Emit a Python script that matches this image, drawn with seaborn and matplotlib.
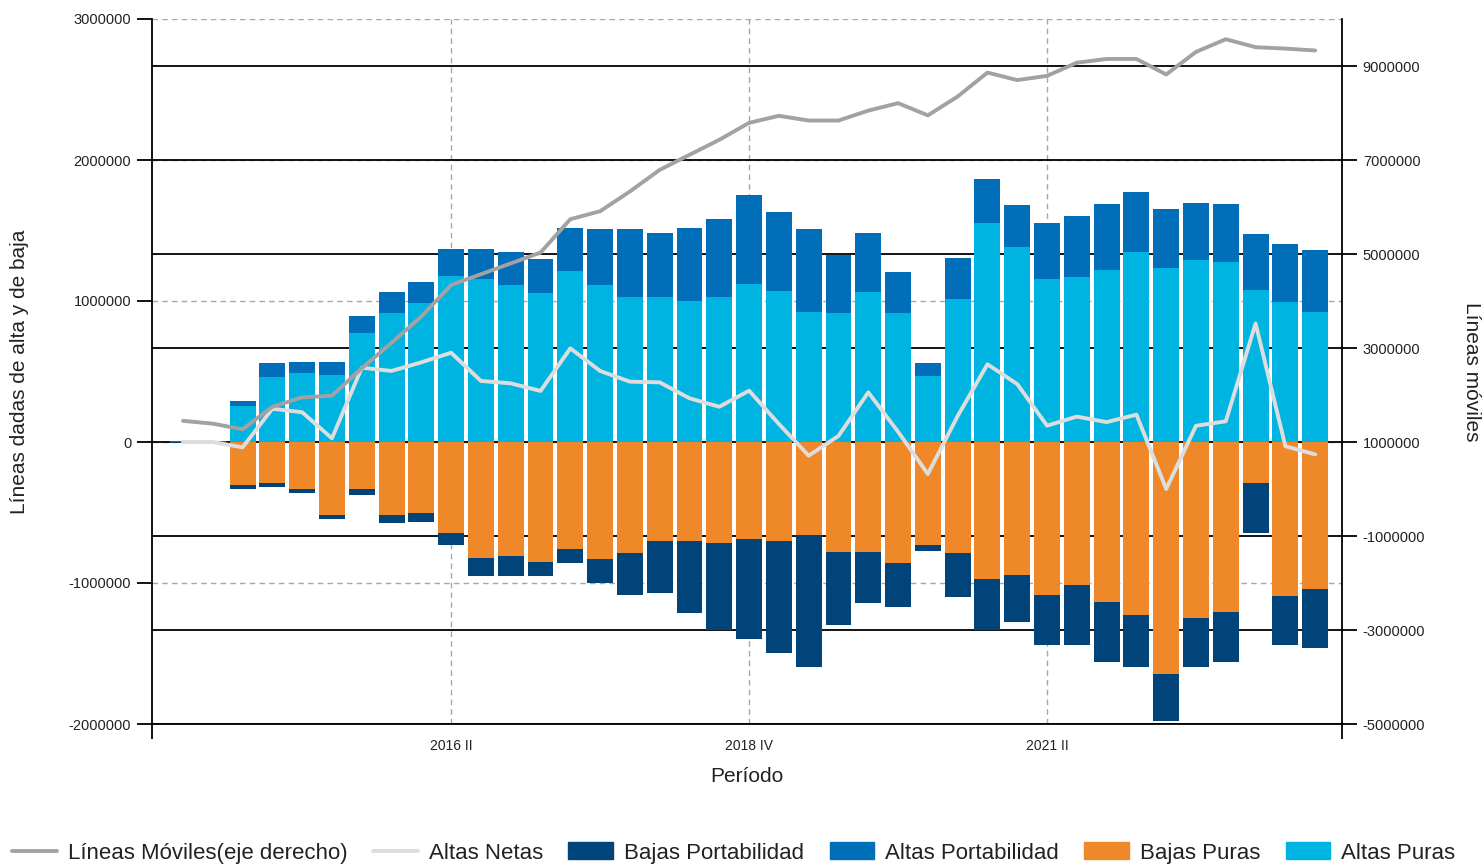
import numpy as np
import matplotlib
matplotlib.use("Agg")
import matplotlib.pyplot as plt
from matplotlib.ticker import FuncFormatter, FixedLocator
from matplotlib.lines import Line2D
from matplotlib.patches import Patch
import seaborn as sns

# quarters 2014 I .. 2023 III
quarters = [f"{y} {q}" for y in range(2014, 2024) for q in ["I", "II", "III", "IV"]][:39]

# values in thousands of lines
altas_puras = np.array([2, 2, 257, 459, 487, 475, 771, 913, 984, 1179,
                        1154, 1111, 1055, 1213, 1111, 1026, 1026, 998, 1026, 1123,
                        1071, 924, 913, 1066, 913, 470, 1012, 1551, 1381, 1156,
                        1168, 1222, 1349, 1235, 1294, 1280, 1077, 993, 924]) * 1000
altas_port = np.array([6, 6, 33, 99, 82, 95, 125, 153, 153, 187,
                       213, 238, 241, 307, 397, 482, 454, 522, 553, 627,
                       562, 584, 413, 414, 295, 88, 295, 312, 300, 395,
                       438, 469, 427, 414, 398, 411, 401, 414, 438]) * 1000
bajas_puras = np.array([2, 2, 305, 293, 335, 518, 335, 518, 506, 648,
                        820, 806, 849, 761, 832, 789, 704, 704, 718, 690,
                        704, 660, 778, 778, 860, 730, 789, 974, 945, 1087,
                        1016, 1132, 1230, 1646, 1248, 1204, 294, 1090, 1045]) * 1000
bajas_port = np.array([4, 4, 30, 28, 28, 31, 43, 59, 60, 83,
                       128, 142, 99, 99, 170, 298, 369, 511, 615, 709,
                       794, 938, 520, 366, 312, 43, 312, 360, 329, 355,
                       426, 428, 369, 330, 350, 356, 351, 350, 413]) * 1000
altas_netas = np.array([0, 0, -38, 236, 211, 26, 527, 504, 565, 633,
                        433, 416, 362, 664, 504, 428, 423, 310, 250, 364,
                        128, -97, 43, 352, 73, -227, 184, 551, 411, 116,
                        180, 141, 194, -333, 115, 147, 840, -30, -88]) * 1000
# millions of lines, right axis
lineas_moviles = np.array([1.45, 1.39, 1.27, 1.75, 1.95, 1.985, 2.57, 3.11, 3.67, 4.34,
                           4.57, 4.80, 5.03, 5.74, 5.91, 6.33, 6.79, 7.11, 7.43, 7.79,
                           7.94, 7.84, 7.84, 8.05, 8.21, 7.95, 8.35, 8.86, 8.70, 8.79,
                           9.07, 9.15, 9.15, 8.82, 9.30, 9.57, 9.40, 9.37, 9.33]) * 1e6

tick_quarters = ["2016 II", "2018 IV", "2021 II"]

C_APURAS = "#00B4E1"
C_APORT = "#006EB9"
C_BPURAS = "#EE8828"
C_BPORT = "#00447A"
C_MOV = "#A2A2A2"
C_NETAS = "#DDDDDD"

sns.set_theme(style="white")
plt.rcParams["font.family"] = ["Liberation Sans", "DejaVu Sans"]

fig = plt.figure(figsize=(14.82, 8.66), dpi=100)
ax = fig.add_axes([152 / 1482, 1 - 724 / 866, 1190 / 1482, 705 / 866])

# stacked bars: draw totals first, then the inner part on top
bar_kw = dict(width=0.87, saturation=1, linewidth=0, errorbar=None, ax=ax, order=quarters)
sns.barplot(x=quarters, y=altas_puras + altas_port, color=C_APORT, **bar_kw)
sns.barplot(x=quarters, y=altas_puras, color=C_APURAS, **bar_kw)
sns.barplot(x=quarters, y=-(bajas_puras + bajas_port), color=C_BPORT, **bar_kw)
sns.barplot(x=quarters, y=-bajas_puras, color=C_BPURAS, **bar_kw)

xpos = np.arange(len(quarters))
sns.lineplot(x=xpos, y=altas_netas, color=C_NETAS, lw=2.8, ax=ax, zorder=5)

ax2 = ax.twinx()
sns.lineplot(x=xpos, y=lineas_moviles, color=C_MOV, lw=2.8, ax=ax2)

xmin, xmax = -1.04, 38.9
ax.set_xlim(xmin, xmax)
ax.set_ylim(-2e6, 3e6)
ax2.set_ylim(-5e6, 10e6)

left_ticks = np.arange(-2e6, 3.1e6, 1e6)
right_ticks = np.arange(-5e6, 9.1e6, 2e6)
ax.set_yticks(left_ticks)
ax2.set_yticks(right_ticks)
fmt = FuncFormatter(lambda v, p: f"{v:.0f}")
ax.yaxis.set_major_formatter(fmt)
ax2.yaxis.set_major_formatter(fmt)

# black grid lines follow the right axis ticks; drawn on the left axes so they stay under the bars
l0, l1 = ax.get_ylim()
r0, r1 = ax2.get_ylim()
black_pos = l0 + (right_ticks - r0) * (l1 - l0) / (r1 - r0)
ax.yaxis.set_minor_locator(FixedLocator(black_pos))
ax.yaxis.remove_overlapping_locs = False
ax.set_axisbelow(True)
ax.yaxis.grid(True, which="major", color="#A8A8A8", lw=1.0, ls=(0, (4, 3)))
ax.yaxis.grid(True, which="minor", color="black", lw=1.3)

tick_idx = [quarters.index(q) for q in tick_quarters]
ax.set_xticks(tick_idx)
ax.set_xticklabels(tick_quarters)
ax.xaxis.set_minor_locator(FixedLocator([xmin, xmax]))
ax.xaxis.grid(True, which="major", color="#A8A8A8", lw=1.0, ls=(0, (4, 3)))
ax.xaxis.grid(False, which="minor")

ax.tick_params(axis="x", which="major", length=0, pad=11, labelsize=10, labelcolor="#222222")
ax.tick_params(axis="x", which="minor", length=11, width=1.3, color="black", bottom=True)
ax.tick_params(axis="y", which="major", length=11, width=1.3, color="black", left=True,
               labelsize=10.5, labelcolor="#222222", pad=4)
ax.tick_params(axis="y", which="minor", length=0)
ax2.tick_params(axis="y", which="major", length=11, width=1.3, color="black", right=True,
                labelsize=10.5, labelcolor="#222222", pad=4)

for s in ["top", "right"]:
    ax.spines[s].set_visible(False)
for s in ["left", "bottom"]:
    ax.spines[s].set_color("black")
    ax.spines[s].set_linewidth(1.3)
for s in ["top", "left", "bottom"]:
    ax2.spines[s].set_visible(False)
ax2.spines["right"].set_color("black")
ax2.spines["right"].set_linewidth(1.3)
ax2.grid(False)

ax.set_xlabel("Período", fontsize=15, labelpad=10, color="#222222")
ax.set_ylabel("Líneas dadas de alta y de baja", fontsize=15, color="#222222")
ax.yaxis.set_label_coords(-0.103, 0.5)
ax2.set_ylabel("Líneas móviles", fontsize=15, rotation=270, va="bottom", color="#222222")
ax2.yaxis.set_label_coords(1.101, 0.5)

handles = [
    Line2D([], [], color=C_MOV, lw=2.8),
    Line2D([], [], color=C_NETAS, lw=2.8),
    Patch(color=C_BPORT),
    Patch(color=C_APORT),
    Patch(color=C_BPURAS),
    Patch(color=C_APURAS),
]
labels = ["Líneas Móviles(eje derecho)", "Altas Netas", "Bajas Portabilidad",
          "Altas Portabilidad", "Bajas Puras", "Altas Puras"]
fig.legend(handles, labels, loc="center", bbox_to_anchor=(734 / 1482, 1 - 853 / 866),
           ncol=6, frameon=False, fontsize=16, handlelength=2.0, handleheight=0.8,
           handletextpad=0.5, columnspacing=1.15, labelcolor="#222222")

fig.savefig("out.png", dpi=100)
